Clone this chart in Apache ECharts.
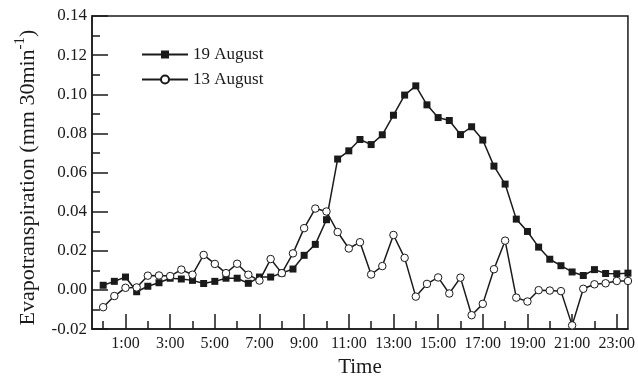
<!DOCTYPE html>
<html><head><meta charset="utf-8">
<script src="https://cdn.jsdelivr.net/npm/echarts@6/dist/echarts.min.js"></script>
<style>html,body{margin:0;padding:0;background:#fff}#c{width:638px;height:383px}</style>
</head><body><div id="c"></div>
<script>
const times = [0,0.5,1,1.5,2,2.5,3,3.5,4,4.5,5,5.5,6,6.5,7,7.5,8,8.5,9,9.5,10,10.5,11,11.5,12,12.5,13,13.5,14,14.5,15,15.5,16,16.5,17,17.5,18,18.5,19,19.5,20,20.5,21,21.5,22,22.5,23,23.5];
const aug19 = [0.0024,0.0044,0.0066,-0.0009,0.0019,0.0037,0.0060,0.0056,0.0049,0.0033,0.0044,0.0060,0.0060,0.0034,0.0066,0.0066,0.0086,0.0107,0.0177,0.0233,0.0359,0.0669,0.0711,0.0769,0.0743,0.0793,0.0893,0.0996,0.1043,0.0946,0.0881,0.0866,0.0794,0.0834,0.0766,0.0633,0.0541,0.0362,0.0299,0.0219,0.0157,0.0124,0.0092,0.0074,0.0104,0.0084,0.0083,0.0086];
const aug13 = [-0.0088,-0.0031,0.0011,0.0013,0.0073,0.0074,0.0071,0.0104,0.0078,0.0179,0.0133,0.0086,0.0134,0.0078,0.0048,0.0158,0.0086,0.0187,0.0316,0.0416,0.0401,0.0296,0.0212,0.0244,0.0079,0.0122,0.0281,0.0164,-0.0034,0.0031,0.0064,-0.0018,0.0063,-0.0129,-0.0071,0.0106,0.0252,-0.0039,-0.0059,-0.0001,-0.0003,-0.0006,-0.0181,0.0006,0.0029,0.0034,0.0046,0.0046];
const majorHours = [1,3,5,7,9,11,13,15,17,19,21,23];
const minorHours = [0,2,4,6,8,10,12,14,16,18,20,22];
const seriesNames = ['19 August','13 August'];

const FONT = 'Liberation Serif';
const INK = '#1a1a1a';
const chart = echarts.init(document.getElementById('c'));
const pair = (vals) => times.map((t, i) => [t, vals[i]]);
chart.setOption({
  animation: false,
  backgroundColor: '#fff',
  grid: {left: 92, right: 5, top: 16, bottom: 46, show: true, borderColor: INK, borderWidth: 1.5, backgroundColor: 'transparent'},
  legend: {
    left: 136, top: 41, orient: 'vertical', itemWidth: 46, itemHeight: 10, itemGap: 8,
    textStyle: {fontFamily: FONT, fontSize: 17, color: INK},
    data: seriesNames
  },
  xAxis: [{
    type: 'value', min: -0.5, max: 23.5,
    name: 'Time', nameLocation: 'middle', nameGap: 25,
    nameTextStyle: {fontFamily: FONT, fontSize: 21, color: INK},
    axisLine: {show: true, onZero: false, lineStyle: {color: INK, width: 1.5}},
    axisTick: {show: true, inside: true, length: 15, customValues: majorHours, lineStyle: {color: INK, width: 1.5}},
    axisLabel: {customValues: majorHours, formatter: v => v + ':00', fontFamily: FONT, fontSize: 16, color: INK, margin: 7},
    splitLine: {show: false}
  }, {
    type: 'value', min: -0.5, max: 23.5, position: 'bottom',
    axisLine: {show: false, onZero: false},
    axisTick: {show: true, inside: true, length: 8, customValues: minorHours, lineStyle: {color: INK, width: 1.5}},
    axisLabel: {show: false},
    splitLine: {show: false}
  }],
  yAxis: {
    type: 'value', min: -0.02, max: 0.14, interval: 0.02,
    name: 'Evapotranspiration (mm 30min{sup|-1})', nameLocation: 'middle', nameGap: 49,
    nameTextStyle: {fontFamily: FONT, fontSize: 22, color: INK, padding: [0, 10, 0, 0], rich: {sup: {fontFamily: FONT, fontSize: 15, color: INK, verticalAlign: 'bottom', padding: [0,0,15,0]}}},
    axisLine: {show: true, onZero: false, lineStyle: {color: INK, width: 1.5}},
    axisTick: {show: true, inside: true, length: 16, lineStyle: {color: INK, width: 1.5}},
    minorTick: {show: true, splitNumber: 2, length: 8, lineStyle: {color: INK, width: 1.5}},
    axisLabel: {formatter: v => v.toFixed(2), fontFamily: FONT, fontSize: 17, color: INK, margin: 5},
    splitLine: {show: false}
  },
  series: [{
    name: seriesNames[0], type: 'line', data: pair(aug19),
    symbol: 'rect', symbolSize: 7, showAllSymbol: true,
    lineStyle: {color: INK, width: 1.5},
    itemStyle: {color: INK, borderColor: INK, borderWidth: 0}
  }, {
    name: seriesNames[1], type: 'line', data: pair(aug13),
    symbol: 'circle', symbolSize: 7.5, showAllSymbol: true,
    lineStyle: {color: INK, width: 1.5},
    itemStyle: {color: '#fff', borderColor: INK, borderWidth: 1}
  }]
});
</script></body></html>
